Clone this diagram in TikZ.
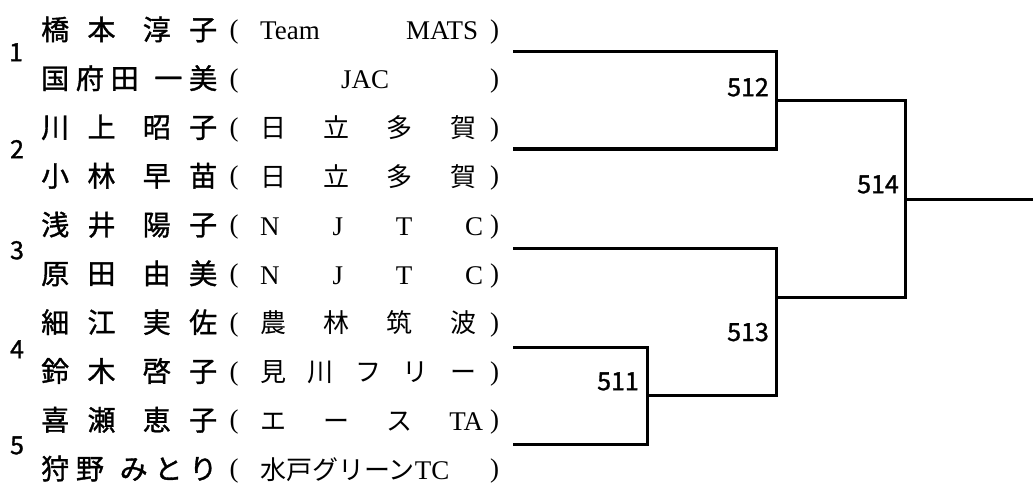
\documentclass[tikz,border=0pt]{standalone}
\usepackage{fontspec}
\newfontfamily\jp{Noto Sans CJK JP}
\newfontfamily\jpb{Noto Sans CJK JP}[FakeBold=1.2]
\newfontfamily\lser{Liberation Serif}
\newcommand\ngap{\hspace{6pt plus 1fill}}
\newcommand\nbrk{\hspace{15pt plus 1fill}}
\newcommand\nmbox[1]{\makebox[176pt][s]{#1}}
\newcommand\tlp{\raisebox{1.5pt}{\fontsize{27}{27}\selectfont(}}
\newcommand\trp{\raisebox{1.5pt}{\fontsize{27}{27}\selectfont)}}
\newcommand\teambox[2]{\makebox[30.5pt][l]{\tlp}\makebox[224pt][l]{\makebox[#1][s]{#2}}\makebox[0pt][l]{\kern6pt\trp}}
\begin{document}
\begin{tikzpicture}[x=1pt,y=-1pt,
  bline/.style={line width=3pt,line join=miter},
  nm/.style={anchor=base west,inner sep=0pt,font=\jpb\fontsize{28}{28}\selectfont},
  tmst/.style={anchor=base west,inner sep=0pt,font=\lser\fontsize{27}{27}\selectfont},
  num/.style={anchor=base,inner sep=0pt,font=\jpb\fontsize{25}{25}\selectfont},
  lbl/.style={anchor=base east,inner sep=0pt,font=\jpb\fontsize{25}{25}\selectfont}]
\useasboundingbox (0,0) rectangle (1033,484);
% names
\node[nm] (n1) at (41,40) {\nmbox{橋\ngap 本\nbrk 淳\ngap 子}};
\node[nm] (n2) at (41,88.8) {\nmbox{国\ngap 府\ngap 田\nbrk 一\ngap 美}};
\node[nm] (n3) at (41,137.6) {\nmbox{川\ngap 上\nbrk 昭\ngap 子}};
\node[nm] (n4) at (41,186.4) {\nmbox{小\ngap 林\nbrk 早\ngap 苗}};
\node[nm] (n5) at (41,235.2) {\nmbox{浅\ngap 井\nbrk 陽\ngap 子}};
\node[nm] (n6) at (41,284) {\nmbox{原\ngap 田\nbrk 由\ngap 美}};
\node[nm] (n7) at (41,332.8) {\nmbox{細\ngap 江\nbrk 実\ngap 佐}};
\node[nm] (n8) at (41,381.6) {\nmbox{鈴\ngap 木\nbrk 啓\ngap 子}};
\node[nm] (n9) at (41,430.4) {\nmbox{喜\ngap 瀬\nbrk 恵\ngap 子}};
\node[nm] (n10) at (41,479.2) {\nmbox{狩\ngap 野\nbrk み\ngap と\ngap り}};
% teams
\node[tmst] (t1) at (229.5,40) {\teambox{218pt}{Team\hfill MATS}};
\node[tmst] (t2) at (229.5,88.8) {\teambox{210pt}{\hfill JAC\hfill}};
\node[tmst] (t3) at (229.5,137.6) {\teambox{216pt}{\jp\fontsize{26}{26}\selectfont 日\hfill 立\hfill 多\hfill 賀}};
\node[tmst] (t4) at (229.5,186.4) {\teambox{216pt}{\jp\fontsize{26}{26}\selectfont 日\hfill 立\hfill 多\hfill 賀}};
\node[tmst] (t5) at (229.5,235.2) {\teambox{223pt}{N\hfill J\hfill T\hfill C}};
\node[tmst] (t6) at (229.5,284) {\teambox{223pt}{N\hfill J\hfill T\hfill C}};
\node[tmst] (t7) at (229.5,332.8) {\teambox{216pt}{\jp\fontsize{26}{26}\selectfont 農\hfill 林\hfill 筑\hfill 波}};
\node[tmst] (t8) at (229.5,381.6) {\teambox{216pt}{\jp\fontsize{26}{26}\selectfont 見\hfill 川\hfill フ\hfill リ\hfill ー}};
\node[tmst] (t9) at (229.5,430.4) {\teambox{223pt}{{\jp\fontsize{26}{26}\selectfont エ}\hfill{\jp\fontsize{26}{26}\selectfont ー}\hfill{\jp\fontsize{26}{26}\selectfont ス}\hfill TA}};
\node[tmst] (t10) at (229.5,479.2) {\teambox{224pt}{{\jp\fontsize{26}{26}\selectfont 水戸グリーン}TC\hfill}};
% seed numbers
\node[num] (s1) at (16,61.2) {1};
\node[num] (s2) at (17,158.2) {2};
\node[num] (s3) at (17,259.2) {3};
\node[num] (s4) at (17,358.2) {4};
\node[num] (s5) at (17,454.2) {5};
% bracket points
\coordinate (a1) at (513,52);
\coordinate (a2) at (513,149);
\coordinate (a3) at (513,248);
\coordinate (a4) at (513,347);
\coordinate (a5) at (513,444);
\coordinate (m512) at (776,101);
\coordinate (m511) at (647,395);
\coordinate (j513) at (776,297);
\coordinate (m514) at (905,199);
\coordinate (fin) at (1033,199);
\draw[bline] (a1) -| (m512) |- (a2);
\draw[bline] (a4) -| (m511) |- (a5);
\draw[bline] (a3) -| (j513) |- (m511);
\draw[bline] (m512) -| (m514) |- (j513);
\draw[bline] (m514) -- (fin);
% match labels
\node[lbl] (l512) at (769,96.2) {512};
\node[lbl] (l514) at (899,193.2) {514};
\node[lbl] (l513) at (769,341) {513};
\node[lbl] (l511) at (639,390.2) {511};
\end{tikzpicture}
\end{document}
